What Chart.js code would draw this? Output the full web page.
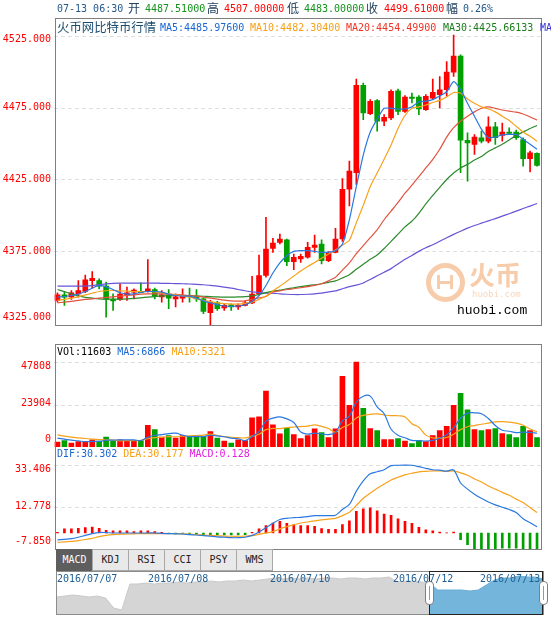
<!DOCTYPE html>
<html lang="zh-CN">
<head>
<meta charset="utf-8">
<title>火币网比特币行情</title>
<script src="https://cdn.jsdelivr.net/npm/chart.js@4.4.1/dist/chart.umd.min.js"></script>
<style>
html,body{margin:0;padding:0;background:#fff;}
body{width:551px;height:618px;overflow:hidden;position:relative;}
canvas{position:absolute;left:0;}
.txt{position:absolute;white-space:pre;font-family:"DejaVu Sans Mono",monospace;font-size:10px;line-height:12px;z-index:5;}
.cj{font-family:"Noto Sans CJK SC",sans-serif;font-size:12px;}
.frame{position:absolute;border:1px solid #7f7f7f;pointer-events:none;z-index:4;}
#tabs{position:absolute;left:56px;top:549px;height:22px;z-index:5;}
.tab{position:absolute;top:0;width:35px;height:20px;border:1px solid #a8a8a8;background:#e9e9e9;color:#222;font-family:"DejaVu Sans Mono",monospace;font-size:10px;line-height:20px;text-align:center;}
.tab.on{background:#5e5e5e;color:#fff;border-color:#5e5e5e;}
#nav{position:absolute;left:56px;top:571px;width:486px;height:42px;border:1px solid #8c8c8c;z-index:4;pointer-events:none;}
#sel{position:absolute;left:429px;top:571px;width:112px;height:42px;border:1px solid #222;z-index:5;}
.handle{position:absolute;top:581px;width:7px;height:22px;background:#fff;border:1px solid #808080;border-radius:4px;z-index:6;}
.handle:after{content:"";position:absolute;left:3px;top:4px;width:1px;height:14px;background:#999;}
.date{position:absolute;top:573px;color:#1f5f96;font-family:"DejaVu Sans Mono",monospace;font-size:10px;line-height:12px;z-index:6;white-space:pre;}
#logo{position:absolute;left:426px;top:263px;width:29px;height:29px;border:5px solid #f7ccaa;border-radius:50%;z-index:1;}
.lbar{position:absolute;background:#f7ccaa;}
</style>
</head>
<body>

<div class="txt" style="left:57px;top:3px;color:#24598a">07-13 06:30</div>
<div class="txt cj" style="left:128px;top:2px;color:#24425f">开</div>
<div class="txt" style="left:145px;top:3px;color:#15921d">4487.51000</div>
<div class="txt cj" style="left:207px;top:2px;color:#24425f">高</div>
<div class="txt" style="left:224px;top:3px;color:#ff0000">4507.00000</div>
<div class="txt cj" style="left:287px;top:2px;color:#24425f">低</div>
<div class="txt" style="left:304px;top:3px;color:#15921d">4483.00000</div>
<div class="txt cj" style="left:366px;top:2px;color:#24425f">收</div>
<div class="txt" style="left:384px;top:3px;color:#ff0000">4499.61000</div>
<div class="txt cj" style="left:446px;top:2px;color:#24425f">幅</div>
<div class="txt" style="left:463px;top:3px;color:#24598a">0.26%</div>

<div class="txt cj" style="left:57px;top:20px;color:#1c4d6e;font-size:12.4px;line-height:14px">火币网比特币行情</div>
<div class="txt" style="left:160px;top:22px;color:#1a66d2">MA5:4485.97600</div>
<div class="txt" style="left:250px;top:22px;color:#f5a015">MA10:4482.30400</div>
<div class="txt" style="left:346px;top:22px;color:#ee3322">MA20:4454.49900</div>
<div class="txt" style="left:443px;top:22px;color:#1b7d1b">MA30:4425.66133</div>
<div class="txt" style="left:540px;top:22px;color:#3b35d0">MA60:4384.51333</div>

<div class="txt" style="left:57px;top:346px;"><span style="color:#000">VOl:11603 </span><span style="color:#1a66d2">MA5:6866 </span><span style="color:#f5a015">MA10:5321</span></div>

<div class="txt" style="left:57px;top:448px;"><span style="color:#1a66d2">DIF:30.302 </span><span style="color:#f5a015">DEA:30.177 </span><span style="color:#e020e0">MACD:0.128</span></div>

<canvas id="cMain" width="551" height="330" style="top:0px"></canvas>
<canvas id="cVol" width="551" height="107" style="top:340px"></canvas>
<canvas id="cMacd" width="551" height="103" style="top:447px"></canvas>
<canvas id="cNav" width="551" height="43" style="top:571px"></canvas>

<div class="frame" style="left:55px;top:18px;width:485px;height:306px;"></div>
<div class="frame" style="left:55px;top:344px;width:485px;height:204px;"></div>

<div id="logo"></div>
<div class="lbar" style="left:437px;top:275px;width:3px;height:14px;z-index:1"></div>
<div class="lbar" style="left:450px;top:275px;width:3px;height:14px;z-index:1"></div>
<div class="lbar" style="left:440px;top:281px;width:10px;height:3px;z-index:1"></div>
<div class="txt cj" style="left:469px;top:258px;font-size:26px;line-height:32px;font-weight:bold;color:#f7ccaa;z-index:1">火币</div>
<div class="txt" style="left:472px;top:289px;font-size:9px;line-height:10px;color:#f8d6bc;z-index:1">huobi.com</div>
<div class="txt" style="left:457px;top:304px;font-family:'Liberation Mono',monospace;font-size:13px;line-height:14px;color:#000;">huobi.com</div>

<div id="tabs">
  <div class="tab on" style="left:0px">MACD</div>
  <div class="tab" style="left:36px">KDJ</div>
  <div class="tab" style="left:72px">RSI</div>
  <div class="tab" style="left:108px">CCI</div>
  <div class="tab" style="left:144px">PSY</div>
  <div class="tab" style="left:180px">WMS</div>
</div>

<div id="nav"></div>
<div id="sel"></div>
<div class="handle" style="left:425px"></div>
<div class="handle" style="left:539px"></div>
<div class="date" style="left:57px">2016/07/07</div>
<div class="date" style="left:148px">2016/07/08</div>
<div class="date" style="left:270px">2016/07/10</div>
<div class="date" style="left:393px">2016/07/12</div>
<div class="date" style="left:480px">2016/07/13</div>

<script>
// ---------- categories ----------
const labels = ['07-12 02:30','07-12 03:00','07-12 03:30','07-12 04:00','07-12 04:30','07-12 05:00','07-12 05:30','07-12 06:00','07-12 06:30','07-12 07:00',
'07-12 07:30','07-12 08:00','07-12 08:30','07-12 09:00','07-12 09:30','07-12 10:00','07-12 10:30','07-12 11:00','07-12 11:30','07-12 12:00',
'07-12 12:30','07-12 13:00','07-12 13:30','07-12 14:00','07-12 14:30','07-12 15:00','07-12 15:30','07-12 16:00','07-12 16:30','07-12 17:00',
'07-12 17:30','07-12 18:00','07-12 18:30','07-12 19:00','07-12 19:30','07-12 20:00','07-12 20:30','07-12 21:00','07-12 21:30','07-12 22:00',
'07-12 22:30','07-12 23:00','07-12 23:30','07-13 00:00','07-13 00:30','07-13 01:00','07-13 01:30','07-13 02:00','07-13 02:30','07-13 03:00',
'07-13 03:30','07-13 04:00','07-13 04:30','07-13 05:00','07-13 05:30','07-13 06:00','07-13 06:30','07-13 07:00','07-13 07:30','07-13 08:00',
'07-13 08:30','07-13 09:00','07-13 09:30','07-13 10:00','07-13 10:30','07-13 11:00','07-13 11:30','07-13 12:00','07-13 12:30','07-13 13:00'];

// ---------- price series ----------
const open = [4340.9,4344.8,4343.2,4345.5,4347.1,4354.7,4354.7,4350.8,4341.6,4341.6,
4344.8,4346.6,4347.1,4347.3,4348.5,4343.4,4344.8,4342.0,4342.5,4344.3,
4343.6,4342.0,4332.3,4339.2,4335.6,4337.9,4336.3,4337.4,4339.2,4345.5,
4358.2,4377.1,4381.3,4383.1,4367.9,4369.7,4370.9,4377.8,4380.1,4368.6,
4374.3,4383.6,4418.2,4429.7,4490.4,4470.8,4479.8,4465.5,4467.8,4486.7,
4472.4,4482.3,4482.3,4473.6,4481.6,4484.0,4487.51,4499.6,4510.9,4452.3,
4449.3,4454.0,4451.6,4461.6,4455.6,4457.9,4457.9,4452.8,4439.4,4443.1];
const high = [4346.2,4347.1,4347.8,4354.7,4358.6,4361.0,4355.9,4353.6,4345.5,4352.4,
4350.1,4348.9,4353.1,4369.3,4349.4,4347.8,4348.5,4345.5,4348.9,4349.4,
4348.5,4342.5,4340.9,4340.2,4338.6,4338.6,4338.6,4340.2,4357.7,4372.5,
4398.6,4384.0,4387.0,4383.6,4373.2,4373.2,4381.3,4386.3,4383.1,4374.8,
4391.0,4425.6,4437.8,4494.8,4492.0,4480.5,4480.5,4470.1,4487.4,4487.9,
4483.3,4485.1,4483.3,4484.0,4494.8,4496.6,4507.0,4525.5,4511.6,4457.4,
4456.3,4458.6,4468.5,4464.8,4464.3,4460.9,4459.3,4453.9,4444.7,4443.6];
const low = [4339.7,4337.4,4341.6,4343.2,4346.2,4349.4,4348.9,4329.3,4334.0,4340.9,
4340.9,4342.0,4346.2,4346.6,4342.0,4339.7,4335.1,4336.3,4339.7,4339.7,
4340.2,4331.6,4324.0,4334.0,4334.0,4334.0,4334.6,4337.0,4338.6,4344.3,
4357.0,4374.3,4380.1,4365.1,4362.3,4367.4,4370.2,4374.3,4366.3,4367.9,
4373.9,4382.0,4406.6,4421.6,4466.6,4470.0,4458.6,4462.5,4466.6,4470.1,
4471.7,4478.2,4470.1,4473.1,4480.5,4474.7,4483.0,4496.6,4429.7,4423.9,
4442.4,4450.5,4450.5,4449.3,4451.6,4456.3,4452.8,4434.3,4430.2,4434.3];
const close = [4344.8,4343.2,4346.2,4347.8,4355.2,4356.3,4350.8,4341.6,4340.6,4345.3,
4346.2,4348.0,4346.2,4348.9,4343.9,4344.8,4342.5,4343.4,4344.1,4343.6,
4342.0,4333.3,4339.7,4335.1,4337.4,4336.3,4337.4,4339.2,4345.3,4358.2,
4376.6,4380.8,4383.6,4367.9,4370.9,4371.6,4377.8,4379.4,4368.6,4373.9,
4383.6,4418.2,4430.9,4490.4,4471.3,4479.3,4465.5,4468.3,4486.3,4472.4,
4482.3,4481.4,4474.0,4482.8,4485.6,4487.4,4499.61,4510.9,4452.3,4450.5,
4454.4,4451.6,4461.6,4454.0,4457.9,4457.0,4454.0,4439.4,4443.6,4434.8];

const ma5 = [4343.2,4343.6,4344.3,4345.3,4347.1,4349.4,4351.3,4350.3,4348.5,4346.2,
4345.3,4345.5,4346.4,4347.1,4347.1,4346.6,4345.3,4344.3,4343.9,4343.9,
4342.5,4340.6,4339.2,4337.9,4337.0,4336.7,4337.0,4337.9,4340.2,4344.3,
4351.3,4360.0,4367.0,4372.0,4375.0,4375.5,4375.5,4375.0,4374.3,4374.5,
4375.5,4380.0,4397.0,4420.0,4442.0,4458.0,4467.0,4474.5,4474.5,4474.0,
4474.0,4475.5,4479.0,4479.5,4480.5,4483.0,4486.0,4493.0,4487.5,4478.0,
4469.0,4460.0,4454.0,4454.5,4456.0,4456.3,4456.3,4453.0,4449.5,4446.0];
const ma10 = [4340.9,4341.6,4342.5,4343.4,4344.8,4345.9,4347.1,4347.6,4347.8,4347.6,
4347.3,4347.1,4347.1,4347.1,4346.9,4346.2,4345.5,4344.8,4344.1,4343.2,
4342.0,4340.9,4340.0,4339.2,4338.6,4338.3,4338.3,4338.8,4339.7,4341.6,
4343.9,4347.5,4350.8,4354.3,4357.8,4361.3,4364.5,4367.3,4370.2,4373.1,
4376.0,4379.4,4382.7,4395.0,4407.0,4420.0,4429.5,4439.0,4449.0,4460.5,
4469.5,4474.5,4475.5,4476.8,4478.5,4480.0,4482.3,4485.5,4485.0,4481.0,
4478.0,4475.5,4474.0,4472.0,4469.0,4466.0,4462.0,4458.0,4455.0,4451.6];
const ma20 = [4339.2,4339.7,4340.2,4340.9,4341.6,4342.0,4342.5,4343.0,4343.4,4343.9,
4344.3,4344.8,4345.3,4345.5,4345.5,4345.5,4345.3,4345.0,4344.8,4344.3,
4343.9,4343.2,4342.5,4341.8,4341.1,4340.6,4340.4,4340.6,4341.6,4342.7,
4343.6,4346.8,4347.5,4348.5,4349.0,4349.7,4350.5,4351.3,4352.5,4354.5,
4357.0,4362.0,4367.0,4373.5,4379.0,4384.5,4390.0,4397.0,4403.0,4409.0,
4415.5,4421.0,4427.0,4433.0,4439.0,4446.0,4454.5,4461.0,4465.5,4469.0,
4472.0,4474.5,4475.5,4474.5,4473.3,4472.5,4471.8,4470.5,4468.5,4466.3];
const ma30 = [4348.5,4347.0,4345.5,4344.0,4343.0,4342.5,4342.0,4341.8,4341.8,4341.8,
4342.0,4342.3,4342.7,4343.2,4343.6,4344.0,4344.2,4344.3,4344.3,4344.2,
4344.0,4343.8,4343.5,4343.3,4343.2,4343.2,4343.3,4343.5,4344.0,4345.0,
4346.3,4347.3,4348.0,4349.0,4349.7,4350.5,4351.2,4351.8,4352.5,4353.5,
4354.5,4356.5,4358.8,4362.5,4366.0,4369.5,4372.5,4377.0,4382.0,4387.0,
4392.0,4396.0,4401.5,4408.0,4414.0,4419.5,4425.0,4429.5,4433.0,4435.5,
4438.5,4441.0,4444.5,4447.0,4449.5,4452.5,4455.5,4458.0,4460.5,4462.5];
const ma60 = [4350.8,4350.8,4350.8,4350.8,4350.9,4351.2,4351.8,4352.4,4352.8,4352.9,
4352.9,4352.9,4352.9,4352.9,4352.9,4352.8,4352.7,4352.6,4352.5,4352.3,
4352.1,4351.8,4351.3,4350.8,4350.1,4349.4,4348.5,4347.6,4346.8,4346.3,
4346.0,4346.0,4345.5,4345.2,4345.0,4345.0,4345.2,4345.5,4346.0,4346.8,
4347.5,4349.0,4350.5,4351.5,4353.0,4355.5,4358.0,4360.5,4363.0,4366.3,
4369.5,4372.2,4375.0,4377.5,4379.6,4382.0,4384.5,4386.8,4389.0,4391.2,
4393.0,4394.6,4396.2,4397.8,4399.5,4401.2,4403.0,4404.8,4406.5,4408.3];

// ---------- volume series ----------
const volume = [2725,3660,2160,3100,3100,4040,3290,5540,3290,4040,
3660,3660,3660,12120,9860,5540,6480,4980,6480,5920,
5920,5920,8740,4980,3290,2160,4040,3660,16440,17000,
31470,12500,7420,10620,7050,4790,6480,10240,8170,5350,
10240,39740,23390,47808,21700,10430,9300,4230,4230,4790,
3290,1970,3660,3100,6480,9300,11603,23390,30150,20950,
9860,9300,9860,10430,7610,7050,5350,11560,9300,5350];
const volMa5 = [4980,4416,3850,3476,2949,3212,3138,3814,3852,4040,
3964,4038,3662,5428,6592,6968,7532,7796,6668,5880,
5956,5844,6596,6296,5770,5018,4642,3626,5918,8660,
14522,16214,16966,15802,13812,8476,7272,7836,7346,7006,
8096,14748,17378,25306,28576,28614,22526,18694,9978,6596,
5168,3702,3588,3362,3700,4902,6866,10775,16185,19079,
19191,18730,16024,12080,9412,8850,8060,8400,8174,7722];
const volMa10 = [6858,6107,5543,5167,4790,4416,4228,4040,3852,3495,
3588,3588,3738,4640,5316,5466,5785,5729,6048,6236,
6462,6688,7196,6482,5825,5487,5243,5111,6107,7215,
9770,10428,10296,10860,11236,11499,11743,12401,11574,10409,
8286,11010,12607,16326,17791,18355,18637,18036,17642,17586,
16891,13114,11141,6670,5148,5035,5321,7181,9773,11389,
12046,12779,13399,14132,14245,14020,13395,12212,10127,8567];

// ---------- MACD series ----------
const dif = [-3.4,-3.1,-2.8,-2.1,-1.2,-0.3,0.3,0.2,0.0,0.0,
0.0,0.0,0.0,0.0,0.0,-0.2,-0.3,-0.4,-0.5,-0.8,
-1.0,-1.3,-1.6,-1.9,-2.1,-2.3,-2.3,-2.1,-1.2,0.5,
2.6,4.8,6.6,7.2,7.5,7.7,8.0,8.5,8.5,8.5,
8.7,11.5,14.0,20.5,25.5,29.0,30.0,31.0,33.0,33.2,
33.3,33.2,32.5,31.7,31.0,30.8,30.302,30.9,24.5,21.5,
19.0,17.0,15.2,13.8,12.6,11.5,10.0,7.0,5.0,3.1];
const dea = [-4.6,-4.4,-4.1,-3.7,-3.2,-2.6,-1.8,-1.2,-0.8,-0.6,
-0.5,-0.4,-0.35,-0.33,-0.33,-0.33,-0.33,-0.35,-0.4,-0.6,
-0.8,-1.0,-1.2,-1.35,-1.5,-1.6,-1.6,-1.5,-1.3,-0.7,
0.0,0.7,2.0,3.1,4.0,4.9,5.4,5.9,6.4,6.8,
7.2,8.5,10.2,13.5,17.0,19.5,21.9,24.0,26.0,27.3,
28.5,29.3,30.0,30.2,30.4,30.4,30.177,30.4,29.5,28.3,
26.5,25.0,23.0,21.5,19.9,18.5,16.6,14.9,12.5,10.0];
const macd = [0.3,2.0,2.0,2.3,2.6,2.9,2.3,1.3,1.0,1.0,
1.0,0.7,1.0,1.0,0.7,0.3,-0.3,-0.5,-0.3,-0.5,
-0.6,-0.8,-0.8,-0.9,-1.0,-0.9,-0.9,-0.8,0.3,2.0,
3.6,4.9,5.7,4.7,4.1,3.6,3.6,3.3,2.1,1.8,
1.8,4.1,6.0,10.6,11.8,12.3,10.9,9.3,8.7,7.0,
5.7,4.7,2.8,1.6,1.1,0.5,0.128,0.5,-3.3,-5.7,
-7.7,-7.85,-7.85,-7.85,-7.5,-7.5,-7.5,-7.85,-7.85,-7.85];

// ---------- tick labels ----------
const priceTicks = [4525,4475,4425,4375,4325];
const priceTickLabels = ['4525.000','4475.000','4425.000','4375.000','4325.000'];
const volTicks = [47808,23904,0];
const volTickLabels = ['47808','23904','0'];
const macdTicks = [33.406,12.778,-7.85];
const macdTickLabels = ['33.406','12.778','-7.850'];

// ---------- navigator (overview) ----------
const navValues = [17,18,19,18,17,18,16,6,4,30,
30,31,30,31,31,32,31,32,32,33,
32,33,33,34,33,34,35,36,35,36,
35,36,35,36,36,35,36,36,35,36,
36,37,32,33,33,32,31,24,24,24,
24,23,24,29,34,36,36,38,37,37,35];
const navSelectStart = 46;

// ---------- styles ----------
const UP = '#ff0000', DOWN = '#00a000';
const C_MA5 = '#2a78e0', C_MA10 = '#f7a21b', C_MA20 = '#e2523e', C_MA30 = '#2b8a2b', C_MA60 = '#6655d6';
const candleColor = open.map((o,i)=> close[i] >= o ? UP : DOWN);

const gridLabels = {
  id: 'gridLabels',
  beforeDatasetsDraw(chart, args, opts) {
    const {ctx, chartArea} = chart;
    const ys = chart.scales.y;
    ctx.save();
    ctx.strokeStyle = '#dedede';
    ctx.lineWidth = 1;
    ctx.setLineDash([4,3]);
    opts.ticks.forEach((v,i) => {
      if (!opts.grid[i]) return;
      const py = Math.round(ys.getPixelForValue(v)) + 0.5;
      ctx.beginPath(); ctx.moveTo(chartArea.left, py); ctx.lineTo(chartArea.right, py); ctx.stroke();
    });
    ctx.setLineDash([]);
    ctx.fillStyle = '#ff0000';
    ctx.font = '10px "DejaVu Sans Mono", monospace';
    ctx.textAlign = 'right';
    ctx.textBaseline = 'middle';
    opts.ticks.forEach((v,i) => {
      ctx.fillText(opts.labels[i], 51, ys.getPixelForValue(v) + opts.shift[i]);
    });
    ctx.restore();
  }
};

function baseOptions(pad, yMin, yMax, gl) {
  return {
    responsive: false, animation: false, events: [],
    layout: { padding: pad },
    plugins: { legend: {display:false}, tooltip: {enabled:false}, gridLabels: gl },
    scales: {
      x: { display: false, offset: true, grid: {display:false} },
      y: { display: false, min: yMin, max: yMax }
    }
  };
}
const lineDs = (data, color, tension) => ({ type:'line', data, borderColor:color, borderWidth:1.2, pointRadius:0, fill:false, tension, order:0 });

// main candlestick chart
new Chart(document.getElementById('cMain'), {
  type: 'bar',
  data: { labels, datasets: [
    lineDs(ma5, C_MA5, 0.2), lineDs(ma10, C_MA10, 0.2), lineDs(ma20, C_MA20, 0.2), lineDs(ma30, C_MA30, 0.2), lineDs(ma60, C_MA60, 0.2),
    { type:'bar', data: low.map((l,i)=>[l, high[i]]), backgroundColor: candleColor, barThickness: 1, grouped: false, order: 2 },
    { type:'bar', data: open.map((o,i)=>[o, close[i]]), backgroundColor: candleColor, barThickness: 5, grouped: false, order: 1 }
  ]},
  options: baseOptions({left:54, right:10.5, top:19, bottom:5}, 4323.8, 4536.6,
    {ticks: priceTicks, labels: priceTickLabels, grid:[true,true,true,true,false], shift:[4,0,0,0,-6]}),
  plugins: [gridLabels]
});

// volume chart
new Chart(document.getElementById('cVol'), {
  type: 'bar',
  data: { labels, datasets: [
    lineDs(volMa5, C_MA5, 0.4), lineDs(volMa10, C_MA10, 0.4),
    { type:'bar', data: volume, backgroundColor: candleColor, barThickness: 5, grouped:false, order: 1 }
  ]},
  options: baseOptions({left:54, right:10.5, top:5, bottom:0}, 0, 57370,
    {ticks: volTicks, labels: volTickLabels, grid:[true,true,false], shift:[4,-1,-8]}),
  plugins: [gridLabels]
});

// MACD chart
new Chart(document.getElementById('cMacd'), {
  type: 'bar',
  data: { labels, datasets: [
    lineDs(dif, C_MA5, 0.3), lineDs(dea, C_MA10, 0.3),
    { type:'bar', data: macd, backgroundColor: macd.map(v => v >= 0 ? UP : DOWN), barThickness: 2, grouped:false, order: 1 }
  ]},
  options: baseOptions({left:54, right:10.5, top:0, bottom:1}, -7.85, 42.15,
    {ticks: macdTicks, labels: macdTickLabels, grid:[true,true,false], shift:[4.5,-1,-7.5]}),
  plugins: [gridLabels]
});

// navigator overview
const navLabels = navValues.map((v,i)=>String(i));
new Chart(document.getElementById('cNav'), {
  type: 'line',
  data: { labels: navLabels, datasets: [
    { data: navValues.map((v,i)=> i <= navSelectStart ? v : null), borderColor:'#c9c9c9', backgroundColor:'#d5d5d5', borderWidth:1, pointRadius:0, fill:'origin', tension:0 },
    { data: navValues.map((v,i)=> i >= navSelectStart ? v : null), borderColor:'#6aaed6', backgroundColor:'#74b5db', borderWidth:1, pointRadius:0, fill:'origin', tension:0 }
  ]},
  options: {
    responsive:false, animation:false, events:[],
    layout:{padding:{left:57, right:8, top:0, bottom:0}},
    plugins:{legend:{display:false}, tooltip:{enabled:false}},
    scales:{ x:{display:false, offset:false}, y:{display:false, min:0, max:43} }
  }
});
</script>
</body>
</html>
